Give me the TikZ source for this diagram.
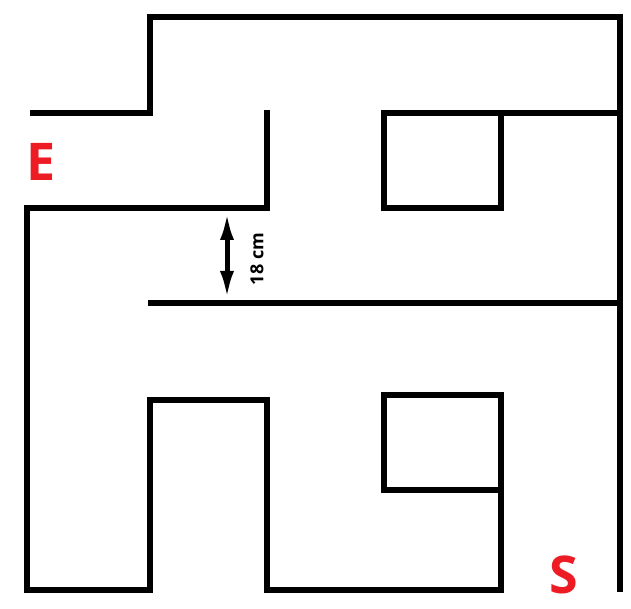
\documentclass[tikz,border=0pt]{standalone}
\usepackage{fontspec}
\setmainfont{Open Sans}
\usepackage{tikz}
\usetikzlibrary{arrows.meta,positioning}
\definecolor{MazeRed}{RGB}{237,28,36}
\tikzset{
  wallline/.style={line width=5.5pt,line join=miter,black},
  endlabel/.style={text=MazeRed,font=\bfseries\fontsize{52}{52}\selectfont,inner sep=0pt},
  gaplabel/.style={font=\bfseries\fontsize{18}{18}\selectfont,inner sep=0pt,rotate=90}
}
\begin{document}
\begin{tikzpicture}[x=1pt,y=-1pt,>=Latex]
      \useasboundingbox (0,0) rectangle (631,609);
      \draw[wallline] (30,113)--(150,113)--(150,17)--(620,17)--(620,592);
      \draw[wallline] (267,110)--(267,208)--(27,208)--(27,590)--(150,590)
        --(150,400)--(267,400)--(267,590)--(501,590)--(501,395);
      \draw[wallline] (384,113)--(620,113);
      \draw[wallline] (384,113) rectangle (501,208);
      \draw[wallline] (384,395) rectangle (501,490);
      \draw[wallline] (148,303)--(620,303);
      \coordinate (gaptop) at (227,212);
      \coordinate (gapbot) at (227,299);
      \draw[{Latex[length=28pt,width=14pt]}-{Latex[length=28pt,width=14pt]},line width=5pt]
        (gaptop)--(gapbot);
      \node[gaplabel] (gap) at (257,259) {18 cm};
      \node[endlabel] (exit) at (41,162) {E};
      \node[endlabel] (start) at (564,575) {S};
    \end{tikzpicture}
\end{document}
